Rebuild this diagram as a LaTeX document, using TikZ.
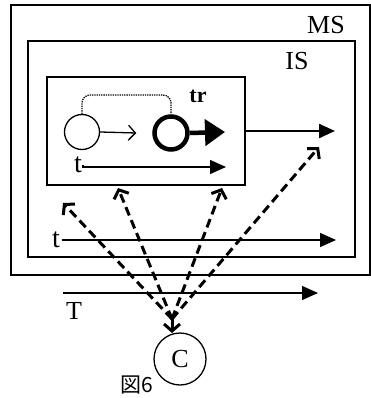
\documentclass[tikz,border=0pt]{standalone}
\usepackage{fontspec}
\setmainfont{Liberation Serif}
\newfontfamily\cjk{Noto Sans CJK JP}
\usetikzlibrary{arrows.meta}
\begin{document}
\begin{tikzpicture}[x=1pt,y=-1pt,
  frame/.style={draw, line width=1.3pt},
  lbl/.style={font=\fontsize{26}{26}\selectfont, inner sep=0pt},
  tlbl/.style={font=\fontsize{28}{28}\selectfont, inner sep=0pt},
  timearrow/.style={line width=1.3pt, -{Triangle[length=16pt,width=14pt]}},
  dasharrow/.style={line width=3pt, dash pattern=on 9pt off 5pt, -{Straight Barb[length=7pt,width=16pt,line width=3pt]}}
]
\useasboundingbox (0,0) rectangle (371,398);
% boxes
\draw[frame] (11,5) rectangle (370,275);
\draw[frame] (28,41) rectangle (355,257);
\draw[frame] (47,77) rectangle (245,185);
\node[lbl] (ms) at (326,25) {MS};
\node[lbl] (is) at (297,61) {IS};
\node[inner sep=0pt, font=\bfseries\fontsize{22}{22}\selectfont] (tr) at (198,96) {tr};
% states
\node[circle, draw, line width=1.3pt, minimum size=35pt, inner sep=0pt] (s1) at (82,132) {};
\node[circle, draw, line width=4.5pt, minimum size=33pt, inner sep=0pt] (s2) at (171,133) {};
\coordinate (top) at (126,95);
\draw[line width=1.3pt, densely dotted, rounded corners=8pt] (s1.north) |- (top) -| (s2.north);
\draw[line width=1.3pt, -{Straight Barb[length=7pt,width=15pt,line width=1.3pt]}] (s1.east) -- ([xshift=-16pt]s2.west);
\coordinate (tre) at (225,132);
\draw[line width=4.5pt, -{Triangle[length=20pt,width=26pt]}] (s2.east) -- (tre);
\coordinate (le0) at (245,131);
\coordinate (le1) at (335,131);
\draw[line width=2.4pt, -{Triangle[length=16pt,width=14pt]}] (le0) -- (le1);
% time axes
\node[tlbl] (t1) at (78,165) {t};
\coordinate (t1e) at (226,167);
\draw[timearrow] ([xshift=1pt]t1.east) |- (t1e);
\node[tlbl] (t2) at (56,240) {t};
\coordinate (t2e) at (336,240);
\draw[timearrow] ([xshift=2pt]t2.east) |- (t2e);
\coordinate (T0) at (63,293);
\coordinate (T1) at (318,293);
\draw[timearrow] (T0) -- (T1);
\node[lbl] (T) at (74,311) {T};
% C
\node[circle, draw, line width=1.3pt, minimum size=52pt, inner sep=0pt, font=\fontsize{26}{26}\selectfont] (C) at (180,359) {C};
\coordinate (cv) at (172,319);
\coordinate (ct) at (172,333);
\draw[line width=3pt, -{Straight Barb[length=7pt,width=16pt,line width=3pt]}] (cv) -- (ct);
\coordinate (d1) at (63,203);
\coordinate (d2) at (118,188);
\coordinate (d3) at (222,188);
\coordinate (d4) at (319,147);
\draw[dasharrow] (cv) -- (d1);
\draw[dasharrow] (cv) -- (d2);
\draw[dasharrow] (cv) -- (d3);
\draw[dasharrow] (cv) -- (d4);
\node[inner sep=0pt, font=\cjk\fontsize{21}{21}\selectfont] (fig) at (137,385) {図6};
\end{tikzpicture}
\end{document}
